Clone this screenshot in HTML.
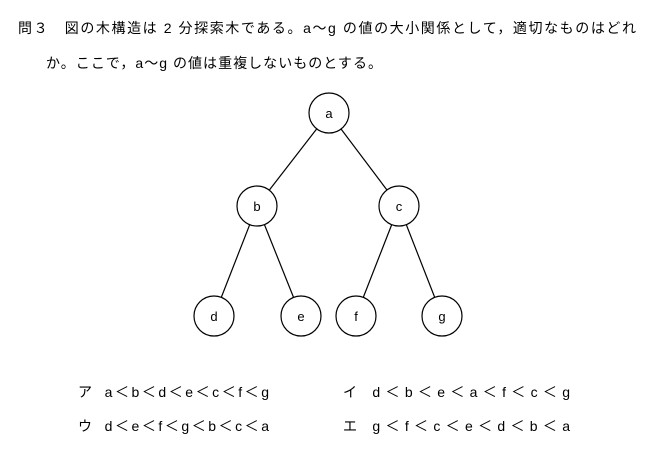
<!DOCTYPE html>
<html><head><meta charset="utf-8"><style>
html,body{margin:0;padding:0;background:#fff;width:672px;height:453px;overflow:hidden}
svg text{font-family:"Liberation Sans","Noto Sans CJK JP",sans-serif;fill:#000}
</style></head><body>
<svg width="672" height="453" viewBox="0 0 672 453" xmlns="http://www.w3.org/2000/svg">
<text x="18" y="33" font-size="14" textLength="618" lengthAdjust="spacing">問３　図の木構造は 2 分探索木である。a～g の値の大小関係として，適切なものはどれ</text>
<text x="46" y="68" font-size="14" textLength="336" lengthAdjust="spacing">か。ここで，a～g の値は重複しないものとする。</text>
<g stroke="#000" stroke-width="1.2">
<line x1="329" y1="113" x2="257" y2="206"/>
<line x1="329" y1="113" x2="399" y2="206"/>
<line x1="257" y1="206" x2="214" y2="316"/>
<line x1="257" y1="206" x2="301" y2="316"/>
<line x1="399" y1="206" x2="356" y2="316"/>
<line x1="399" y1="206" x2="442" y2="316"/>
</g>
<g fill="#fff" stroke="#000" stroke-width="1.2">
<circle cx="329" cy="113" r="20"/>
<circle cx="257" cy="206" r="20"/>
<circle cx="399" cy="206" r="20"/>
<circle cx="214" cy="316" r="20"/>
<circle cx="301" cy="316" r="20"/>
<circle cx="356" cy="316" r="20"/>
<circle cx="442" cy="316" r="20"/>
</g>
<g font-size="13" text-anchor="middle">
<text x="329" y="118">a</text>
<text x="257" y="211">b</text>
<text x="399" y="211">c</text>
<text x="214" y="321">d</text>
<text x="301" y="321">e</text>
<text x="356" y="321">f</text>
<text x="442" y="321">g</text>
</g>
<g font-size="14">
<text x="78" y="397" textLength="191" lengthAdjust="spacing">ア　a ＜ b ＜ d ＜ e ＜ c ＜ f ＜ g</text>
<text x="343" y="397" textLength="227" lengthAdjust="spacing">イ　d ＜ b ＜ e ＜ a ＜ f ＜ c ＜ g</text>
<text x="78" y="431" textLength="191" lengthAdjust="spacing">ウ　d ＜ e ＜ f ＜ g ＜ b ＜ c ＜ a</text>
<text x="343" y="431" textLength="227" lengthAdjust="spacing">エ　g ＜ f ＜ c ＜ e ＜ d ＜ b ＜ a</text>
</g>
</svg>
</body></html>
